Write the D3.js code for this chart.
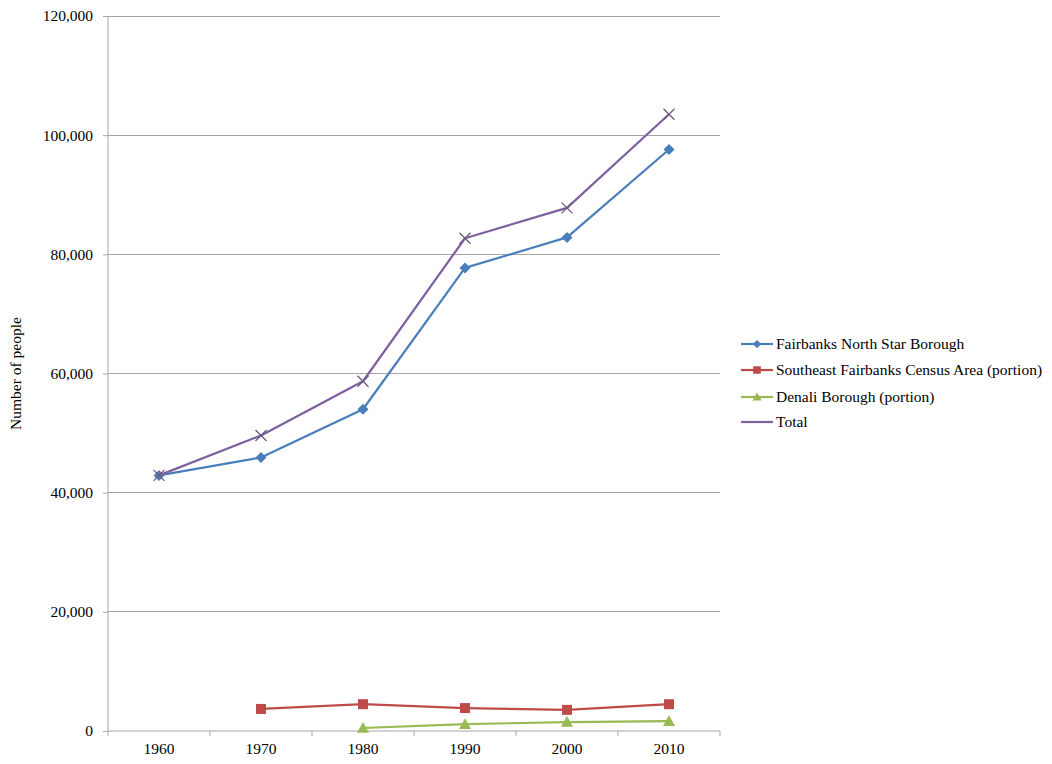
<!DOCTYPE html>
<html><head><meta charset="utf-8">
<script src="https://cdn.jsdelivr.net/npm/d3@7"></script>
<style>body{margin:0;background:#fff}svg{display:block}</style>
</head><body>
<svg id="c" width="1052" height="764"></svg>
<script>
const years = ["1960","1970","1980","1990","2000","2010"];
const fairbanksNSB = [42900, 45900, 54000, 77720, 82840, 97600];
const southeastFairbanks = [null, 3700, 4500, 3850, 3550, 4500];
const denali = [null, null, 500, 1150, 1500, 1650];
const total = [42900, 49600, 58700, 82700, 87800, 103500];
const seriesNames = ["Fairbanks North Star Borough","Southeast Fairbanks Census Area (portion)","Denali Borough (portion)","Total"];
const yTicks = [0,20000,40000,60000,80000,100000,120000];

const colors = ["#4a7ebb","#be4b48","#98b954","#7d60a0"];
const markers = ["diamond","square","triangle","x"];
const data = [fairbanksNSB, southeastFairbanks, denali, total];

const svg = d3.select("#c");
const font = "'Liberation Serif','Times New Roman',serif";
const fs = 15.5;
const L = 108, R = 720, T = 16, B = 731;

const x = d3.scaleBand().domain(years).range([L, R]);
const y = d3.scaleLinear().domain([0,120000]).range([B, T]);

// gridlines
svg.append("g").selectAll("line").data(yTicks.filter(d=>d>0)).join("line")
  .attr("x1", L).attr("x2", R).attr("y1", d=>y(d)).attr("y2", d=>y(d))
  .attr("stroke", "#a6a6a6").attr("stroke-width", 1).attr("shape-rendering","crispEdges");

// y axis
const ya = svg.append("g").attr("transform", `translate(${L},0)`)
  .call(d3.axisLeft(y).tickValues(yTicks).tickFormat(d3.format(",")).tickSize(5).tickPadding(10));
ya.select(".domain").attr("stroke","#a6a6a6").attr("d", `M0,${T}V${B}`);
ya.selectAll(".tick line").attr("stroke","#a6a6a6");
ya.selectAll("text").attr("font-family", font).attr("font-size", fs).attr("fill","#000");

// x axis
const xa = svg.append("g").attr("transform", `translate(0,${B})`)
  .call(d3.axisBottom(x).tickSize(0).tickPadding(12));
xa.select(".domain").attr("stroke","#a6a6a6").attr("d", `M${L},0H${R}`);
xa.selectAll("text").attr("font-family", font).attr("font-size", fs).attr("fill","#000");
svg.append("g").selectAll("line").data(years.map(yy=>x(yy)).concat([R])).join("line")
  .attr("x1", d=>d).attr("x2", d=>d).attr("y1", B).attr("y2", B+5)
  .attr("stroke","#a6a6a6");

// y label
svg.append("text").attr("transform", `translate(21,${(T+B)/2}) rotate(-90)`)
  .attr("text-anchor","middle").attr("font-family", font).attr("font-size", fs).text("Number of people");

function drawMarker(g, type, cx, cy, color, k) {
  k = k || 1;
  if (type === "diamond") {
    const s = 5.5*k;
    g.append("path").attr("d", `M${cx},${cy-s}L${cx+s},${cy}L${cx},${cy+s}L${cx-s},${cy}Z`).attr("fill", color);
  } else if (type === "square") {
    const s = 5*k;
    g.append("rect").attr("x", cx-s).attr("y", cy-s).attr("width", 2*s).attr("height", 2*s).attr("fill", color);
  } else if (type === "triangle") {
    const s = 6*k;
    g.append("path").attr("d", `M${cx},${cy-s}L${cx+s},${cy+s*0.8}L${cx-s},${cy+s*0.8}Z`).attr("fill", color);
  } else {
    const s = 5.5*k;
    g.append("path").attr("d", `M${cx-s},${cy-s}L${cx+s},${cy+s}M${cx+s},${cy-s}L${cx-s},${cy+s}`)
      .attr("stroke", "#6b5a7e").attr("stroke-width", 1.3).attr("fill","none");
  }
}

const line = d3.line().defined(d=>d.v!=null).x(d=>x(d.k)+x.bandwidth()/2).y(d=>y(d.v));
data.forEach((arr, i) => {
  const pts = years.map((k,j)=>({k, v: arr[j]}));
  const g = svg.append("g");
  g.append("path").datum(pts).attr("d", line).attr("fill","none")
    .attr("stroke", colors[i]).attr("stroke-width", 2.2).attr("stroke-linejoin","round");
  pts.filter(p=>p.v!=null).forEach(p => drawMarker(g, markers[i], x(p.k)+x.bandwidth()/2, y(p.v), colors[i]));
});

// legend
const lg = svg.append("g");
const legY = [344, 370, 397, 422];
seriesNames.forEach((n, i) => {
  const yy = legY[i];
  lg.append("line").attr("x1", 741).attr("x2", 773).attr("y1", yy).attr("y2", yy)
    .attr("stroke", colors[i]).attr("stroke-width", 2.2);
  if (i < 3) drawMarker(lg, markers[i], 757, yy, colors[i], 0.75);
  lg.append("text").attr("x", 776).attr("y", yy+5).attr("font-family", font).attr("font-size", fs).text(n);
});
</script>
</body></html>
